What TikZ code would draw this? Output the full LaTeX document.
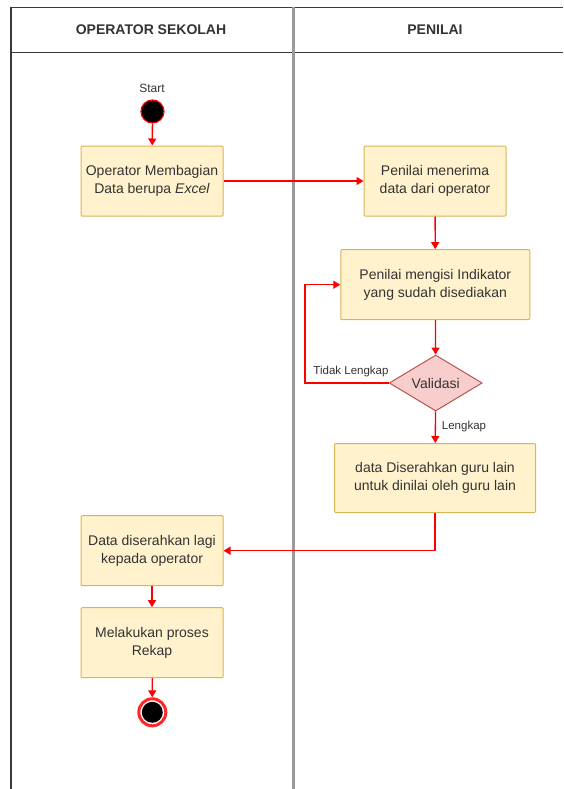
\documentclass[tikz,border=0pt]{standalone}
\usepackage{fontspec}
\setmainfont{Liberation Sans}
\usetikzlibrary{shapes.geometric,arrows.meta}
\definecolor{boxfill}{HTML}{FFF2CC}
\definecolor{boxline}{HTML}{D6B656}
\definecolor{diafill}{HTML}{F8CECC}
\definecolor{dialine}{HTML}{B85450}
\definecolor{txt}{HTML}{333333}
\definecolor{framec}{HTML}{3A3A3A}
\definecolor{dividerc}{HTML}{9A9A9A}
\definecolor{flowc}{HTML}{FF0000}
\begin{document}
\begin{tikzpicture}[x=1pt,y=-1pt,
  act/.style={rectangle, draw=boxline, fill=boxfill, line width=1pt,
    minimum width=142pt, minimum height=70pt, inner sep=0pt, align=center,
    text=txt, font=\fontsize{14}{18}\selectfont, rounded corners=1pt},
  decision/.style={diamond, draw=dialine, fill=diafill, line width=1pt,
    minimum width=93pt, minimum height=56pt, inner sep=0pt, shape aspect=1.66,
    text=txt, font=\fontsize{14}{18}\selectfont},
  lbl/.style={text=txt, font=\fontsize{11.5}{14}\selectfont, inner sep=0pt},
  head/.style={text=txt, font=\fontsize{14}{17}\selectfont\bfseries, inner sep=0pt},
  flow/.style={draw=flowc, line width=1.3pt, -{Triangle[width=8pt,length=7pt]}},
  startnode/.style={circle, fill=black, draw=flowc, line width=1.2pt, minimum size=23pt, inner sep=0pt},
  endring/.style={circle, fill=white, draw=flowc!85, line width=3pt, minimum size=27pt, inner sep=0pt},
  enddot/.style={circle, fill=black, minimum size=21pt, inner sep=0pt},
  framel/.style={draw=framec, line width=1.5pt},
  divl/.style={draw=dividerc, line width=2.7pt}
]
\useasboundingbox (0,0) rectangle (563,789);

% swimlane frame
\draw[framel] (10.8,789) -- (10.8,7.3) -- (563,7.3);
\draw[framel] (10.8,52.5) -- (563,52.5);
\draw[divl] (293.3,7.3) -- (293.3,789);
\node[head] (h1) at (151,30) {OPERATOR SEKOLAH};
\node[head] (h2) at (435,30) {PENILAI};

% nodes
\node[lbl, font=\fontsize{12}{14}\selectfont] (startlbl) at (152,88) {Start};
\node[startnode] (start) at (152.5,111.5) {};
\node[act] (b1) at (152,181) {Operator Membagian\\Data berupa \textit{Excel}};
\node[act] (b2) at (435,181) {Penilai menerima\\data dari operator};
\node[act, minimum width=189pt] (b3) at (435.3,284.7) {Penilai mengisi Indikator\\yang sudah disediakan};
\node[decision] (dia) at (435.7,383) {Validasi};
\node[act, minimum width=201pt, minimum height=69pt] (b4) at (435,478) {data Diserahkan guru lain\\untuk dinilai oleh guru lain};
\node[act] (b5) at (152,550.7) {Data diserahkan lagi\\kepada operator};
\node[act] (b6) at (152,642.7) {Melakukan proses\\Rekap};
\node[endring] (endr) at (152.3,712.3) {};
\node[enddot] (endd) at (152.3,712.3) {};

% connectors
\coordinate (lp) at (305,383);
\draw[flow] (start) -- (b1);
\draw[flow] (b1) -- (b2);
\draw[flow] (b2) -- (b3);
\draw[flow] (b3) -- (dia);
\draw[flow] (dia.west) -- (lp) |- (b3.west);
\draw[flow] (dia) -- (b4);
\draw[flow] (b4.south) |- (b5.east);
\draw[flow] (b5) -- (b6);
\draw[flow] (b6) -- (endr);

% labels
\node[lbl] (l1) at (351,371.7) {Tidak Lengkap};
\node[lbl] (l2) at (464,426.7) {Lengkap};
\end{tikzpicture}
\end{document}
